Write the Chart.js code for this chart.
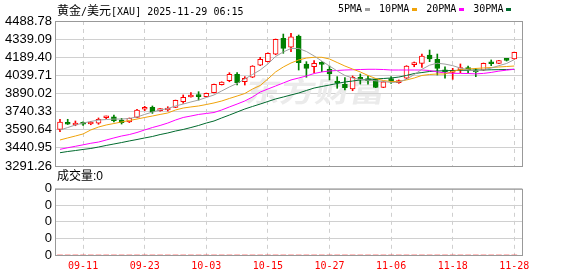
<!DOCTYPE html>
<html>
<head>
<meta charset="utf-8">
<script src="https://cdn.jsdelivr.net/npm/chart.js@4.4.1/dist/chart.umd.min.js"></script>
<style>
body { margin: 0; background: #fff; }
#wrap { position: relative; width: 578px; height: 276px; overflow: hidden; background: #fff; }
canvas { position: absolute; left: 0; }
#main { top: 0; }
#vol { top: 178px; }
.mono { font-family: "DejaVu Sans Mono", monospace; font-size: 10px; }
.cjk { font-family: "Noto Sans CJK SC", sans-serif; font-size: 12px; }
#title { position: absolute; left: 57px; top: 3px; line-height: 14px; white-space: nowrap; color: #000; }
#legend { position: absolute; left: 338px; top: 3px; line-height: 12px; white-space: nowrap; color: #000; display: flex; align-items: center; }
#legend .sw { display: inline-block; width: 5px; height: 3px; margin: 0 9px 0 3px; }
#volTitle { position: absolute; left: 57px; top: 168px; line-height: 14px; white-space: nowrap; color: #000; }
#volTitle .num { font-family: "Liberation Sans", sans-serif; font-size: 12px; }
</style>
</head>
<body>
<div id="wrap">
  <canvas id="main" width="578" height="180"></canvas>
  <canvas id="vol" width="578" height="98"></canvas>
  <div id="title"><span class="cjk">黄金</span><span class="mono">/</span><span class="cjk">美元</span><span class="mono">[XAU] 2025-11-29 06:15</span></div>
  <div id="legend"></div>
  <div id="volTitle"><span class="cjk">成交量</span><span class="num">:0</span></div>
</div>
<script>
// trading days shown on the chart
var dates = [
  "09-08","09-09","09-10","09-11","09-12","09-15","09-16","09-17","09-18","09-19",
  "09-22","09-23","09-24","09-25","09-26","09-29","09-30","10-01","10-02","10-03",
  "10-06","10-07","10-08","10-09","10-10","10-13","10-14","10-15","10-16","10-17",
  "10-20","10-21","10-22","10-23","10-24","10-27","10-28","10-29","10-30","10-31",
  "11-03","11-04","11-05","11-06","11-07","11-10","11-11","11-12","11-13","11-14",
  "11-17","11-18","11-19","11-20","11-21","11-24","11-25","11-26","11-27","11-28"
];

var opens = [
  3594,3644,3630,3641,3638,3646,3690,3698,3671,3655,
  3693,3760,3776,3748,3754,3776,3822,3861,3874,3864,
  3897,3963,3996,4049,3987,4024,4125,4153,4214,4346,
  4272,4365,4134,4111,4139,4090,3987,3966,3927,4014,
  4006,4007,3941,4003,3979,4016,4128,4139,4208,4172,
  4073,4065,4087,4092,4073,4084,4142,4139,4169,4175
];
var highs = [
  3677,3677,3663,3657,3660,3688,3704,3712,3685,3688,
  3760,3784,3787,3765,3781,3836,3878,3897,3905,3894,
  3968,3987,4062,4062,4029,4120,4189,4225,4340,4381,
  4387,4373,4153,4161,4153,4117,4029,4021,4035,4051,
  4035,4010,3991,4029,4002,4120,4150,4216,4249,4216,
  4111,4098,4134,4117,4098,4142,4167,4164,4177,4232
];
var lows = [
  3575,3634,3624,3627,3632,3636,3682,3655,3638,3650,
  3690,3748,3726,3745,3745,3773,3809,3859,3836,3861,
  3894,3960,3987,3960,3960,4021,4120,4150,4210,4222,
  4235,4084,4024,4062,4070,4002,3933,3919,3913,3968,
  3968,3938,3938,3974,3974,4012,4111,4106,4153,4043,
  4016,4007,4062,4057,4029,4082,4120,4136,4158,4172
];
var closes = [
  3655,3636,3642,3636,3644,3677,3696,3665,3649,3685,
  3754,3770,3737,3754,3762,3834,3859,3867,3864,3892,
  3966,3985,4049,3979,4016,4117,4172,4222,4338,4263,
  4359,4144,4098,4139,4131,4051,3977,3938,4024,4007,
  3997,3941,3987,3997,3996,4117,4134,4200,4175,4098,
  4068,4078,4092,4087,4068,4139,4136,4161,4164,4230
];

// moving averages
var ma5 = [
  3588,3609,3630,3646,3659,3671,3675,3679,3679,3684,
  3696,3717,3737,3754,3766,3787,3803,3820,3836,3857,
  3878,3911,3944,3973,4010,4047,4084,4134,4196,4233,
  4262,4262,4237,4200,4158,4117,4076,4039,4018,4006,
  4000,3995,3989,3981,3984,4008,4046,4090,4124,4140,
  4133,4120,4100,4085,4075,4088,4100,4120,4138,4170
];
var ma10 = [
  3506,3523,3539,3556,3589,3613,3630,3642,3655,3667,
  3679,3692,3704,3717,3729,3754,3770,3779,3787,3799,
  3812,3828,3849,3869,3890,3927,3956,4010,4068,4109,
  4142,4167,4183,4189,4189,4175,4146,4117,4092,4068,
  4039,4014,3997,3989,3989,4002,4018,4039,4047,4051,
  4051,4072,4088,4092,4097,4101,4105,4109,4113,4117
];
var ma20 = [
  3429,3442,3454,3466,3479,3489,3506,3523,3539,3551,
  3568,3589,3609,3626,3646,3671,3692,3704,3717,3725,
  3733,3754,3779,3803,3828,3861,3902,3927,3952,3977,
  4002,4018,4035,4055,4068,4076,4080,4084,4086,4088,
  4090,4090,4088,4084,4084,4084,4084,4084,4080,4068,
  4060,4057,4056,4055,4052,4056,4064,4075,4083,4090
];
var ma30 = [
  3401,3411,3419,3428,3436,3448,3461,3473,3485,3498,
  3510,3523,3535,3551,3564,3580,3593,3609,3626,3646,
  3663,3688,3712,3737,3762,3783,3803,3824,3845,3861,
  3878,3894,3915,3935,3948,3960,3973,3985,3993,4002,
  4006,4010,4014,4018,4026,4039,4055,4063,4072,4076,
  4078,4080,4082,4082,4084,4084,4086,4087,4088,4090
];

var volumes = [
  0,0,0,0,0,0,0,0,0,0, 0,0,0,0,0,0,0,0,0,0,
  0,0,0,0,0,0,0,0,0,0, 0,0,0,0,0,0,0,0,0,0,
  0,0,0,0,0,0,0,0,0,0, 0,0,0,0,0,0,0,0,0,0
];

var yTicks = [4488.78,4339.09,4189.40,4039.71,3890.02,3740.33,3590.64,3440.95,3291.26];
var labelIdx = [3,11,19,27,35,43,51,59];
var volTicks = [0,1,2,3,4];

var maNames = ["5PMA","10PMA","20PMA","30PMA"];
var maColors = ["#a0a0a0","#f0a30a","#ff00ff","#006a2e"];

var RED = "#ff0000", GREEN = "#008000";
var up = closes.map(function (c, i) { return c >= opens[i]; });

// legend in the header
var lg = document.getElementById("legend");
maNames.forEach(function (n, k) {
  var t = document.createElement("span");
  t.className = "mono"; t.textContent = n;
  var s = document.createElement("span");
  s.className = "sw"; s.style.background = maColors[k];
  lg.appendChild(t); lg.appendChild(s);
});

var frame = {
  id: "frame",
  afterDraw: function (c) {
    var a = c.chartArea, g = c.ctx;
    g.save();
    g.strokeStyle = "#999";
    g.lineWidth = 1;
    g.strokeRect(a.left + 0.5, a.top + 0.5, a.right - a.left, a.bottom - a.top);
    g.restore();
  }
};

var watermark = {
  id: "watermark",
  beforeDatasetsDraw: function (c) {
    var g = c.ctx;
    g.save();
    g.fillStyle = "#ebebeb";
    g.font = "bold 28px 'Noto Sans CJK SC'";
    g.textAlign = "center";
    g.textBaseline = "middle";
    g.translate(316, 91);
    g.transform(1.25, 0, -0.2, 1, 0, 0);
    g.fillText("东方财富", 0, 0);
    g.restore();
  }
};

var xMin = -0.65, xMax = 60;

var mainData = {
  datasets: [
    {
      type: "bar", label: "body", order: 1, grouped: false,
      data: opens.map(function (o, i) { return { x: i, y: [o, closes[i]] }; }),
      backgroundColor: up.map(function (u) { return u ? "#ffffff" : GREEN; }),
      borderColor: up.map(function (u) { return u ? RED : GREEN; }),
      borderWidth: 1, borderSkipped: false, barThickness: 5, minBarLength: 2
    },
    {
      type: "bar", label: "wick", order: 2, grouped: false,
      data: lows.map(function (l, i) { return { x: i, y: [l, highs[i]] }; }),
      backgroundColor: up.map(function (u) { return u ? RED : GREEN; }),
      borderWidth: 0, barThickness: 1
    }
  ]
};
[ma5, ma10, ma20, ma30].forEach(function (arr, k) {
  mainData.datasets.push({
    type: "line", label: maNames[k], order: 0,
    data: arr.map(function (v, i) { return { x: i, y: v }; }),
    borderColor: maColors[k], borderWidth: 1, pointRadius: 0, tension: 0, fill: false
  });
});

new Chart(document.getElementById("main"), {
  type: "bar",
  data: mainData,
  options: {
    responsive: false, animation: false, events: [],
    layout: { padding: { top: 21, right: 56, bottom: 14, left: 0 } },
    plugins: { legend: { display: false }, tooltip: { enabled: false } },
    scales: {
      x: {
        type: "linear", min: xMin, max: xMax, offset: false,
        afterBuildTicks: function (s) { s.ticks = labelIdx.map(function (v) { return { value: v }; }); },
        afterFit: function (s) { s.height = 0; },
        ticks: { display: false, autoSkip: false },
        grid: { color: "#cfcfcf", drawTicks: false, offset: false },
        border: { display: false, dash: [4, 4] }
      },
      y: {
        min: yTicks[yTicks.length - 1], max: yTicks[0],
        afterBuildTicks: function (s) { s.ticks = yTicks.map(function (v) { return { value: v }; }); },
        afterFit: function (s) { s.width = 55; },
        ticks: {
          autoSkip: false, padding: 3, color: "#000",
          font: { family: "Liberation Sans", size: 13 },
          callback: function (v) { return v.toFixed(2); }
        },
        grid: { color: "#d0d0d0", drawTicks: false },
        border: { display: false }
      }
    }
  },
  plugins: [watermark, frame]
});

new Chart(document.getElementById("vol"), {
  type: "bar",
  data: {
    datasets: [{
      label: "volume", grouped: false,
      data: volumes.map(function (v, i) { return { x: i, y: v }; }),
      backgroundColor: RED, barThickness: 5
    }]
  },
  options: {
    responsive: false, animation: false, events: [],
    layout: { padding: { top: 8, right: 56, bottom: 0, left: 0 } },
    plugins: { legend: { display: false }, tooltip: { enabled: false } },
    scales: {
      x: {
        type: "linear", min: xMin, max: xMax, offset: false,
        afterBuildTicks: function (s) { s.ticks = labelIdx.map(function (v) { return { value: v }; }); },
        afterFit: function (s) { s.height = 21; },
        ticks: {
          autoSkip: false, maxRotation: 0, padding: 5, color: RED,
          font: { family: "DejaVu Sans Mono", size: 10 },
          callback: function (v) { return dates[v]; }
        },
        grid: { color: "#cfcfcf", drawTicks: false, offset: false },
        border: { display: false, dash: [4, 4] }
      },
      y: {
        min: 0, max: 4,
        afterBuildTicks: function (s) { s.ticks = volTicks.map(function (v) { return { value: v }; }); },
        afterFit: function (s) { s.width = 55; },
        ticks: {
          autoSkip: false, padding: 3, color: "#000",
          font: { family: "Liberation Sans", size: 13 },
          callback: function () { return "0"; }
        },
        grid: { color: "#d0d0d0", drawTicks: false },
        border: { display: false }
      }
    }
  },
  plugins: [frame]
});
</script>
</body>
</html>
